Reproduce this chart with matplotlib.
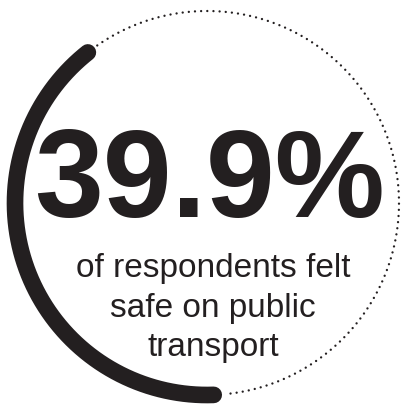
import numpy as np
import matplotlib
matplotlib.use("Agg")
import matplotlib.pyplot as plt

# Data
share = 39.9            # percent of respondents who felt safe
big_label = "39.9%"
sub_label = "of respondents felt\nsafe on public\ntransport"

INK = "#231f20"

fig = plt.figure(figsize=(4.02, 4.07), dpi=100)
ax = fig.add_axes([0, 0, 1, 1])
ax.set_xlim(0, 402)
ax.set_ylim(407, 0)
ax.axis("off")

cx, cy, r = 207, 203, 192
start = 272.0                       # degrees (math convention, y up)
end = start - share / 100 * 360.0

# thick arc
t = np.radians(np.linspace(start, end, 400))
ax.plot(cx + r * np.cos(t), cy - r * np.sin(t), color=INK, lw=12,
        solid_capstyle="round")

# dotted remainder
t2 = np.radians(np.linspace(end - 3.5, start - 360 + 3.5, 800))
ax.plot(cx + r * np.cos(t2), cy - r * np.sin(t2), color=INK, lw=1.7,
        linestyle=(0, (0.01, 2.6)), dash_capstyle="round")

ax.text(209, 217, big_label, ha="center", va="baseline",
        fontsize=89, fontweight="bold", family="Liberation Sans", color=INK)

ax.text(213, 308, sub_label, ha="center", va="center", multialignment="center",
        fontsize=24, family="Liberation Sans", color=INK, linespacing=1.36)

fig.savefig("out.png", dpi=100)
